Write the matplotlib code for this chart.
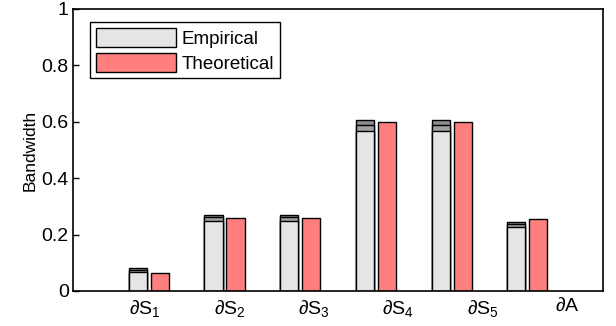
import numpy as np
import matplotlib.pyplot as plt

plt.rcParams['font.family'] = ['Liberation Sans', 'DejaVu Sans']
plt.rcParams['mathtext.fontset'] = 'custom'
plt.rcParams['mathtext.rm'] = 'Liberation Sans'
plt.rcParams['mathtext.it'] = 'Liberation Sans'
plt.rcParams['mathtext.default'] = 'regular'

labels = [r'$\partial$S$_1$', r'$\partial$S$_2$', r'$\partial$S$_3$',
          r'$\partial$S$_4$', r'$\partial$S$_5$', r'$\partial$A']
emp_max = [0.080, 0.271, 0.271, 0.606, 0.606, 0.246]
emp_mid = [0.074, 0.262, 0.262, 0.587, 0.587, 0.236]
emp_min = [0.068, 0.248, 0.248, 0.566, 0.566, 0.226]
theoretical = [0.063, 0.258, 0.258, 0.598, 0.598, 0.254]

x = np.arange(1, len(labels) + 1)
w = 0.24
off = 0.145
lw = 1.0
# the tick labels in the original are spread a bit wider than the bar groups
label_pos = 0.95 + (x - 1) * 1.115

fig = plt.figure(figsize=(6.16, 3.26), dpi=100)
ax = fig.add_axes([0.1185, 0.1074, 0.8605, 0.865])

ax.bar(x - off, emp_max, w, color='#8c8c8c', edgecolor='black', linewidth=lw)
ax.bar(x - off, emp_mid, w, color='#a0a0a0', edgecolor='black', linewidth=lw)
h1 = ax.bar(x - off, emp_min, w, color='#e5e5e5', edgecolor='black', linewidth=lw)
h2 = ax.bar(x + off, theoretical, w, color='#ff7f7f', edgecolor='black', linewidth=lw)

ax.set_xlim(0, 7)
ax.set_ylim(0, 1)
ax.set_xticks(label_pos)
ax.set_xticklabels(labels, fontsize=14)
ax.set_yticks([0, 0.2, 0.4, 0.6, 0.8, 1])
ax.set_yticklabels(['0', '0.2', '0.4', '0.6', '0.8', '1'], fontsize=14)
ax.tick_params(axis='x', length=0, pad=5)
ax.tick_params(axis='y', direction='in', length=4, width=1, pad=3)
ax.set_ylabel('Bandwidth', fontsize=12.5, labelpad=3)
for s in ax.spines.values():
    s.set_linewidth(1.2)

leg = ax.legend([h1, h2], ['Empirical', 'Theoretical'], loc='upper left',
                bbox_to_anchor=(0.032, 0.954), borderaxespad=0,
                fontsize=13.5, fancybox=False,
                edgecolor='black', handlelength=4.3, handleheight=1.2,
                labelspacing=0.28, borderpad=0.3, handletextpad=0.3,
                framealpha=1)
leg.get_frame().set_linewidth(1.0)

fig.savefig('out.png', dpi=100)
